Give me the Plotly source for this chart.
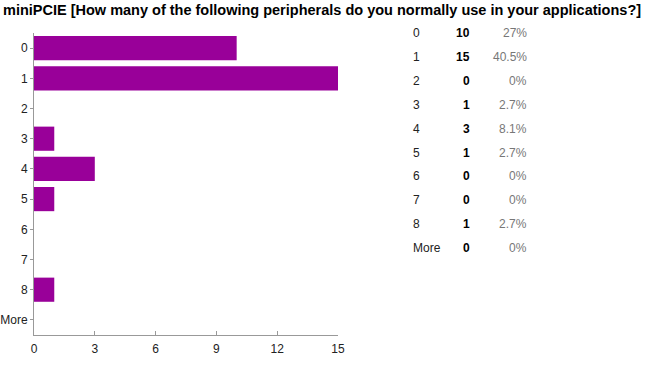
import plotly.graph_objects as go

categories = ["0", "1", "2", "3", "4", "5", "6", "7", "8", "More"]
counts = [10, 15, 0, 1, 3, 1, 0, 0, 1, 0]
percents = ["27%", "40.5%", "0%", "2.7%", "8.1%", "2.7%", "0%", "0%", "2.7%", "0%"]
x_ticks = [0, 3, 6, 9, 12, 15]
title_text = "miniPCIE [How many of the following peripherals do you normally use in your applications?]"

W, H = 650, 370
plot_left, plot_right, plot_top, plot_bottom = 34, 338, 33, 335
L = plot_left
R = W - plot_right
T = plot_top
B = H - plot_bottom
pw = W - L - R
ph = H - T - B

fig = go.Figure(go.Bar(
    y=categories, x=counts, orientation="h",
    marker=dict(color="#990099", line=dict(width=0)),
    hoverinfo="skip",
))

fnt = "Arial, Liberation Sans, sans-serif"

def px_x(p):
    return (p - plot_left) / pw

def px_y(p):
    return (plot_bottom - p) / ph

annotations = []
row_top = 33.5
row_step = 23.8
for i, (c, n, pct) in enumerate(zip(categories, counts, percents)):
    yy = px_y(row_top + i * row_step)
    annotations.append(dict(xref="paper", yref="paper", x=px_x(411), y=yy, text=c,
                            showarrow=False, xanchor="left", yanchor="middle",
                            font=dict(family=fnt, size=12, color="#222222")))
    annotations.append(dict(xref="paper", yref="paper", x=px_x(472), y=yy, text="<b>%d</b>" % n,
                            showarrow=False, xanchor="right", yanchor="middle",
                            font=dict(family=fnt, size=12, color="#000000")))
    annotations.append(dict(xref="paper", yref="paper", x=px_x(529), y=yy, text=pct,
                            showarrow=False, xanchor="right", yanchor="middle",
                            font=dict(family=fnt, size=12, color="#777777")))

annotations.append(dict(xref="paper", yref="paper", x=px_x(1), y=px_y(10), text="<b>" + title_text + "</b>",
                        showarrow=False, xanchor="left", yanchor="middle",
                        font=dict(family=fnt, size=14.5, color="#000000")))

fig.update_layout(
    width=W, height=H,
    margin=dict(l=L, r=R, t=T, b=B, autoexpand=False),
    paper_bgcolor="white", plot_bgcolor="white",
    bargap=0.2,
    showlegend=False,
    annotations=annotations,
    xaxis=dict(range=[0, 15], tickvals=x_ticks, ticktext=[str(v) for v in x_ticks],
               showgrid=False, zeroline=False, showline=True, linecolor="#999999", linewidth=1,
               ticks="inside", ticklen=4, tickcolor="#999999", ticklabelstandoff=3,
               tickfont=dict(family=fnt, size=12, color="#222222"), fixedrange=True),
    yaxis=dict(categoryorder="array", categoryarray=categories, autorange="reversed",
               showgrid=False, zeroline=False, showline=True, linecolor="#999999", linewidth=1,
               ticks="outside", ticklen=3, tickcolor="#999999",
               tickfont=dict(family=fnt, size=12, color="#222222"), fixedrange=True),
)

fig.write_html("out.html", config={"displayModeBar": False},
               post_script="document.body.style.margin='0';document.body.style.overflow='hidden';")
